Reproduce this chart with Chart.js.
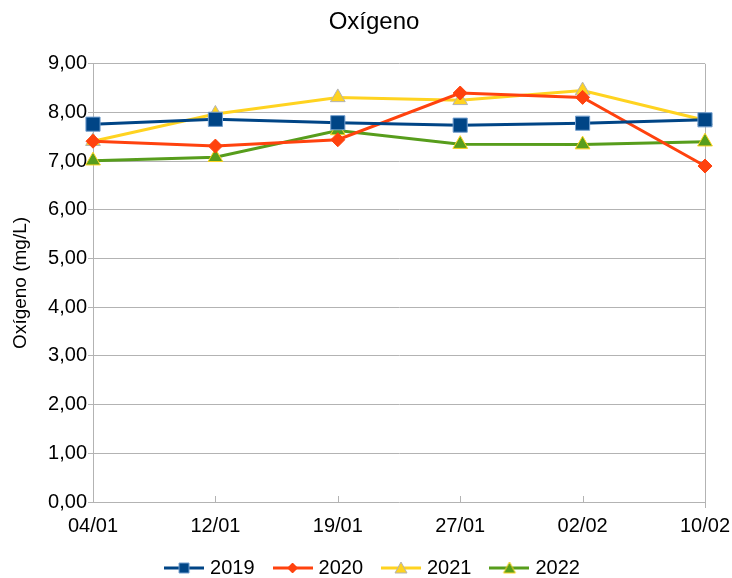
<!DOCTYPE html>
<html>
<head>
<meta charset="utf-8">
<script src="https://cdn.jsdelivr.net/npm/chart.js@4/dist/chart.umd.min.js"></script>
<style>
  html, body { margin: 0; padding: 0; background: #fff; }
  #wrap { width: 732px; height: 578px; }
</style>
</head>
<body>
<div id="wrap"><canvas id="myChart" width="732" height="578"></canvas></div>
<script>
// Chart data
let labels = ['04/01', '12/01', '19/01', '27/01', '02/02', '10/02'];
let years = ['2019', '2020', '2021', '2022'];
let o2019 = [7.76, 7.86, 7.79, 7.74, 7.78, 7.85];
let o2020 = [7.41, 7.31, 7.44, 8.40, 8.31, 6.90];
let o2021 = [7.41, 7.97, 8.31, 8.25, 8.45, 7.84];
let o2022 = [7.01, 7.08, 7.63, 7.35, 7.34, 7.40];
let yTicks = [0, 1, 2, 3, 4, 5, 6, 7, 8, 9];

let grey = '#b3b3b3';
let font = 'Liberation Sans, Arial, sans-serif';

// small line + marker pictures for the legend
function legendIcon(color, shape, fill, border) {
    let c = document.createElement('canvas');
    c.width = 40;
    c.height = 16;
    let g = c.getContext('2d');
    g.strokeStyle = color;
    g.lineWidth = 3;
    g.beginPath();
    g.moveTo(0, 8);
    g.lineTo(40, 8);
    g.stroke();
    g.fillStyle = fill;
    g.strokeStyle = border;
    g.lineWidth = 1;
    g.beginPath();
    if (shape === 'rect') {
        g.rect(15, 3, 10, 10);
    } else if (shape === 'diamond') {
        g.moveTo(20, 3); g.lineTo(25, 8); g.lineTo(20, 13); g.lineTo(15, 8); g.closePath();
    } else {
        g.moveTo(20, 2); g.lineTo(26, 13); g.lineTo(14, 13); g.closePath();
    }
    g.fill();
    g.stroke();
    return c;
}

let icons = [
    legendIcon('#004586', 'rect', '#004586', '#729fcf'),
    legendIcon('#ff420e', 'diamond', '#ff420e', '#ff420e'),
    legendIcon('#ffd320', 'tri', '#ffd320', grey),
    legendIcon('#579d1c', 'tri', '#579d1c', '#ffd320')
];

// little inner tick marks on the category axis
let innerTicks = {
    id: 'innerTicks',
    beforeDatasetsDraw(chart) {
        let x = chart.scales.x;
        let ctx = chart.ctx;
        ctx.save();
        ctx.strokeStyle = grey;
        ctx.lineWidth = 1;
        for (let i = 1; i < labels.length - 1; i++) {
            let px = Math.round(x.getPixelForValue(i)) + 0.5;
            ctx.beginPath();
            ctx.moveTo(px, chart.chartArea.bottom);
            ctx.lineTo(px, chart.chartArea.bottom - 6);
            ctx.stroke();
        }
        ctx.restore();
    }
};

let ctx = document.getElementById('myChart').getContext('2d');
let myChart = new Chart(ctx, {
    type: 'line',
    data: {
        labels: labels,
        datasets: [{
            label: years[0],
            data: o2019,
            borderColor: '#004586',
            backgroundColor: '#004586',
            pointStyle: 'rect',
            pointRadius: 10,
            pointBackgroundColor: '#004586',
            pointBorderColor: '#729fcf',
            pointBorderWidth: 1
        }, {
            label: years[1],
            data: o2020,
            borderColor: '#ff420e',
            backgroundColor: '#ff420e',
            pointStyle: 'rectRot',
            pointRadius: 7,
            pointBackgroundColor: '#ff420e',
            pointBorderColor: '#ff420e',
            pointBorderWidth: 1
        }, {
            label: years[2],
            data: o2021,
            borderColor: '#ffd320',
            backgroundColor: '#ffd320',
            pointStyle: 'triangle',
            pointRadius: 8.5,
            pointBackgroundColor: '#ffd320',
            pointBorderColor: grey,
            pointBorderWidth: 1
        }, {
            label: years[3],
            data: o2022,
            borderColor: '#579d1c',
            backgroundColor: '#579d1c',
            pointStyle: 'triangle',
            pointRadius: 8.5,
            pointBackgroundColor: '#579d1c',
            pointBorderColor: '#ffd320',
            pointBorderWidth: 1
        }]
    },
    options: {
        responsive: false,
        animation: false,
        events: [],
        elements: {
            line: { borderWidth: 3, tension: 0 }
        },
        layout: {
            padding: { left: 16, right: 0, top: 0, bottom: -10 }
        },
        plugins: {
            title: {
                display: true,
                text: 'Oxígeno',
                color: '#000',
                font: { family: font, size: 24, weight: 'normal' },
                padding: { top: 8, bottom: 27 }
            },
            legend: {
                position: 'bottom',
                labels: {
                    usePointStyle: true,
                    pointStyleWidth: 32,
                    padding: 22,
                    color: '#000',
                    font: { family: font, size: 20 },
                    generateLabels: chart => chart.data.datasets.map((ds, i) => ({
                        text: ds.label,
                        pointStyle: icons[i],
                        datasetIndex: i,
                        hidden: false,
                        lineWidth: 0,
                        strokeStyle: 'rgba(0,0,0,0)',
                        fillStyle: 'rgba(0,0,0,0)',
                        fontColor: '#000'
                    }))
                }
            },
            tooltip: { enabled: false }
        },
        scales: {
            x: {
                offset: false,
                grid: {
                    color: c => c.index === labels.length - 1 ? grey : 'rgba(0,0,0,0)',
                    tickColor: c => c.index === labels.length - 1 ? grey : 'rgba(0,0,0,0)',
                    tickLength: 6
                },
                border: { display: false },
                ticks: {
                    color: '#000',
                    padding: 6,
                    maxRotation: 0,
                    font: { family: font, size: 20 }
                },
                afterFit: s => {
                    s.paddingLeft = 0;
                    s.paddingRight = 27;
                    s.height = 34;
                }
            },
            y: {
                min: 0,
                max: 9,
                afterBuildTicks: s => { s.ticks = yTicks.map(v => ({ value: v })); },
                grid: { color: grey, tickColor: grey, tickLength: 5 },
                border: { color: grey },
                ticks: {
                    color: '#000',
                    padding: 1,
                    font: { family: font, size: 20 },
                    callback: v => v.toFixed(2).replace('.', ',')
                },
                title: {
                    display: true,
                    text: 'Oxígeno (mg/L)',
                    color: '#000',
                    font: { family: font, size: 19 },
                    padding: { top: -7, bottom: 0 }
                },
                afterFit: s => { s.width = 77; }
            }
        }
    },
    plugins: [innerTicks]
});
</script>
</body>
</html>
